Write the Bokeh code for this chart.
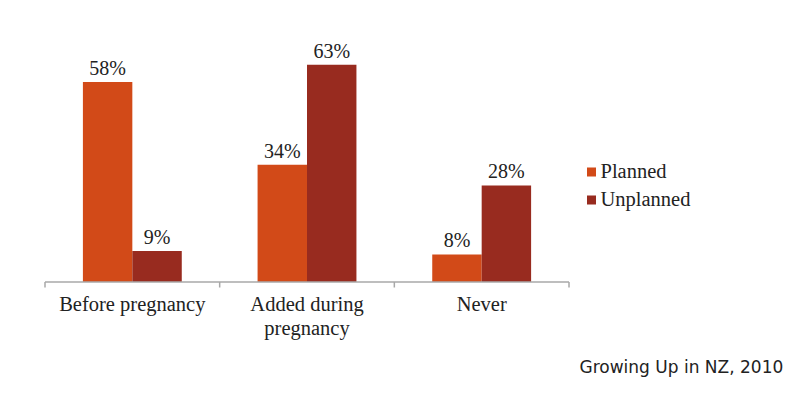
from bokeh.plotting import figure
from bokeh.models import ColumnDataSource, Range1d, LabelSet, Label
from bokeh.embed import file_html
from bokeh.resources import INLINE

categories = ["Before pregnancy", "Added during\npregnancy", "Never"]
series = ["Planned", "Unplanned"]
planned = [58, 34, 8]
unplanned = [9, 63, 28]
credit = "Growing Up in NZ, 2010"

colors = ["#D24A18", "#982B1F"]
bar_w = 0.283
serif = "Liberation Serif"
txt_col = "#222222"
axis_col = "#A8A8A8"

# pixel geometry of the frame (frame = whole figure)
W, H = 788, 388
x0_px, ux = 44.5, 174.67      # pixel of x=0, pixels per category
y0_px, uy = 281.5, 3.45       # pixel of y=0, pixels per percent


def px_x(px):
    return (px - x0_px) / ux


def px_y(py):
    return (y0_px - py) / uy


p = figure(output_backend="svg", toolbar_location=None,
           frame_width=W, frame_height=H,
           min_border_left=0, min_border_right=0, min_border_top=0, min_border_bottom=0,
           x_range=Range1d(px_x(0), px_x(W)),
           y_range=Range1d(px_y(H), px_y(0)))
p.background_fill_color = "white"
p.border_fill_color = "white"
p.outline_line_color = None
p.grid.visible = False
p.axis.visible = False

n = len(categories)
centers = [i + 0.5 for i in range(n)]
for k, (name, vals) in enumerate(zip(series, [planned, unplanned])):
    off = -bar_w / 2 if k == 0 else bar_w / 2
    xs = [c + off for c in centers]
    src = ColumnDataSource(dict(x=xs, top=vals, label=[f"{v}%" for v in vals]))
    p.vbar(x="x", top="top", width=bar_w, bottom=0, source=src,
           fill_color=colors[k], line_color=None)
    p.add_layout(LabelSet(x="x", y="top", text="label", source=src,
                          text_align="center", text_baseline="bottom",
                          y_offset=3, text_font=serif,
                          text_font_size="20px", text_color=txt_col))

# axis line and group separator ticks
p.segment(x0=[0], y0=[0], x1=[n], y1=[0], line_color=axis_col, line_width=1.5)
bounds = list(range(n + 1))
p.segment(x0=bounds, y0=[0] * len(bounds), x1=bounds, y1=[-5.5 / uy] * len(bounds),
          line_color=axis_col, line_width=1.5)

# category labels (one row per line of text)
lx, ly, lt = [], [], []
for c, cat in zip(centers, categories):
    for j, line in enumerate(cat.split("\n")):
        lx.append(c)
        ly.append(px_y(303.5 + 23.5 * j))
        lt.append(line)
p.text(x=lx, y=ly, text=lt, text_align="center", text_baseline="alphabetic",
       text_font={"value": serif}, text_font_size={"value": "20.5px"}, text_color=txt_col)

# legend drawn by hand (square swatches + serif labels)
leg_sq_y = [px_y(171.5 + 28 * i) for i in range(len(series))]
leg_tx_y = [px_y(170.5 + 28 * i) for i in range(len(series))]
p.scatter(x=[px_x(591)] * len(series), y=leg_sq_y, marker="square", size=9,
          fill_color=colors, line_color=None)
p.text(x=[px_x(600)] * len(series), y=leg_tx_y, text=series,
       text_align="left", text_baseline="alphabetic",
       text_font={"value": serif}, text_font_size={"value": "20.5px"}, text_color=txt_col)

p.add_layout(Label(x=px_x(579), y=px_y(366), text=credit,
                   text_font="DejaVu Sans", text_font_size="17px", text_color=txt_col,
                   text_baseline="alphabetic"))

open("out.html", "w").write(file_html(p, INLINE))
